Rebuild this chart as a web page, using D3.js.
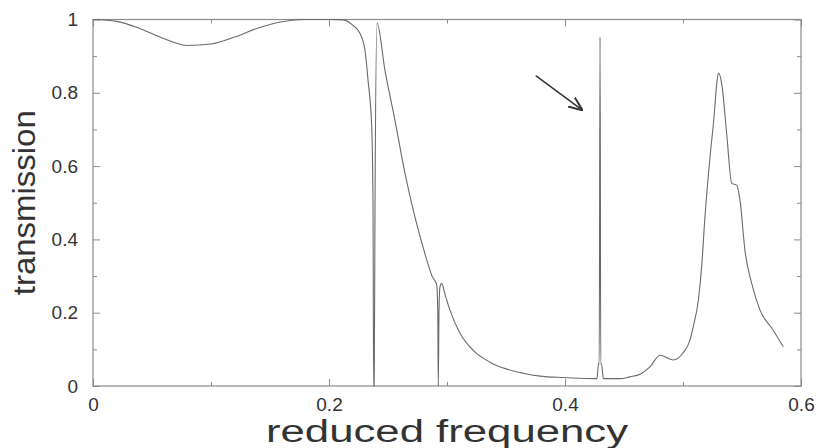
<!DOCTYPE html>
<html>
<head>
<meta charset="utf-8">
<script src="https://cdn.jsdelivr.net/npm/d3@7"></script>
<style>
  body { margin: 0; background: #fff; }
  svg { display: block; font-family: "Liberation Sans", Arial, sans-serif; }
</style>
</head>
<body>
<div id="wrapper"></div>
<script>
// reduced frequency values and their transmission
const frequency = [
  0, 0.02, 0.04, 0.06, 0.08, 0.10, 0.12, 0.14, 0.16, 0.18, 0.20, 0.212,
  0.2203, 0.2263, 0.2305, 0.2331, 0.2362, 0.2373, 0.2378, 0.2383, 0.2390, 0.2407,
  0.2475, 0.2559, 0.2644, 0.2729, 0.2814, 0.2873, 0.2913, 0.2922, 0.2926, 0.2932, 0.2940, 0.2955,
  0.2983, 0.3025, 0.3110, 0.3220, 0.3364, 0.3508, 0.3644, 0.3788, 0.3983, 0.4127, 0.4271,
  0.4284, 0.4290, 0.4297, 0.4303, 0.4310, 0.4325, 0.4466, 0.4550, 0.4636, 0.4720, 0.4805,
  0.4915, 0.5000, 0.5059, 0.5087, 0.5130, 0.5158, 0.5186, 0.5229, 0.5263, 0.5286, 0.5300,
  0.5328, 0.5370, 0.5413, 0.5455, 0.5483, 0.5525, 0.5582, 0.5653, 0.5763, 0.5850
]
const transmission = [
  1.0, 0.995, 0.975, 0.948, 0.929, 0.933, 0.952, 0.977, 0.994, 1.0, 1.0, 0.999,
  0.984, 0.962, 0.916, 0.834, 0.706, 0.5, 0.0, 0.0, 0.5, 0.99,
  0.86, 0.725, 0.58, 0.46, 0.36, 0.30, 0.275, 0.2, 0.0, 0.2, 0.27, 0.28,
  0.25, 0.207, 0.144, 0.098, 0.065, 0.046, 0.035, 0.027, 0.023, 0.021, 0.02,
  0.062, 0.06, 0.952, 0.06, 0.06, 0.02, 0.02, 0.025, 0.032, 0.052, 0.084,
  0.071, 0.09, 0.125, 0.162, 0.234, 0.325, 0.461, 0.625, 0.734, 0.825, 0.854,
  0.825, 0.689, 0.553, 0.548, 0.507, 0.37, 0.28, 0.207, 0.153, 0.107
]

const xMajorTicks = [0, 0.2, 0.4, 0.6]
const xMinorTicks = [0.1, 0.3, 0.5]
const yMajorTicks = [0, 0.2, 0.4, 0.6, 0.8, 1]
const yMinorTicks = [0.1, 0.3, 0.5, 0.7, 0.9]

// arrow pointing at the narrow resonance: [start, tip] in data units
const arrowFrom = [0.3752, 0.847]
const arrowTo = [0.415, 0.752]

const dataset = frequency.map((f, i) => ({ f: f, t: transmission[i] }))

let dimensions = {
  width: 818,
  height: 448,
  margin: { top: 19.5, right: 17, bottom: 62, left: 93 },
}
dimensions.boundedWidth = dimensions.width - dimensions.margin.left - dimensions.margin.right
dimensions.boundedHeight = dimensions.height - dimensions.margin.top - dimensions.margin.bottom

const wrapper = d3.select("#wrapper")
  .append("svg")
    .attr("width", dimensions.width)
    .attr("height", dimensions.height)

const bounds = wrapper.append("g")
    .attr("transform", `translate(${dimensions.margin.left},${dimensions.margin.top})`)

const xScale = d3.scaleLinear()
  .domain([0, 0.6])
  .range([0, dimensions.boundedWidth])

const yScale = d3.scaleLinear()
  .domain([0, 1])
  .range([dimensions.boundedHeight, 0])

const frameColor = "#8a8a8a"
const textColor = "#333"

// ticks pointing inward on all four sides
function styleAxis(g) {
  g.select(".domain").remove()
  g.selectAll(".tick line").attr("stroke", frameColor)
  g.selectAll(".tick text")
    .attr("fill", textColor)
    .style("font-size", "19px")
}

const fmt = d => d3.format("")(d)

bounds.append("g")
    .attr("transform", `translate(0,${dimensions.boundedHeight})`)
    .call(d3.axisBottom(xScale).tickValues(xMajorTicks).tickSizeInner(-7).tickPadding(12).tickFormat(fmt))
    .call(styleAxis)
bounds.append("g")
    .attr("transform", `translate(0,${dimensions.boundedHeight})`)
    .call(d3.axisBottom(xScale).tickValues(xMinorTicks).tickSizeInner(-4).tickFormat(""))
    .call(styleAxis)
bounds.append("g")
    .call(d3.axisTop(xScale).tickValues(xMajorTicks).tickSizeInner(-7).tickFormat(""))
    .call(styleAxis)
bounds.append("g")
    .call(d3.axisTop(xScale).tickValues(xMinorTicks).tickSizeInner(-4).tickFormat(""))
    .call(styleAxis)

bounds.append("g")
    .call(d3.axisLeft(yScale).tickValues(yMajorTicks).tickSizeInner(-7).tickPadding(15).tickFormat(fmt))
    .call(styleAxis)
bounds.append("g")
    .call(d3.axisLeft(yScale).tickValues(yMinorTicks).tickSizeInner(-4).tickFormat(""))
    .call(styleAxis)
bounds.append("g")
    .attr("transform", `translate(${dimensions.boundedWidth},0)`)
    .call(d3.axisRight(yScale).tickValues(yMajorTicks).tickSizeInner(-7).tickFormat(""))
    .call(styleAxis)
bounds.append("g")
    .attr("transform", `translate(${dimensions.boundedWidth},0)`)
    .call(d3.axisRight(yScale).tickValues(yMinorTicks).tickSizeInner(-4).tickFormat(""))
    .call(styleAxis)

bounds.append("rect")
    .attr("width", dimensions.boundedWidth)
    .attr("height", dimensions.boundedHeight)
    .attr("fill", "none")
    .attr("stroke", frameColor)
    .attr("stroke-width", 1.2)

// the curve
const lineGenerator = d3.line()
  .x(d => xScale(d.f))
  .y(d => yScale(d.t))
  .curve(d3.curveMonotoneX)

bounds.append("path")
    .datum(dataset)
    .attr("d", lineGenerator)
    .attr("fill", "none")
    .attr("stroke", "#6a6a6a")
    .attr("stroke-width", 1.1)

// arrow
wrapper.append("defs").append("marker")
    .attr("id", "head")
    .attr("viewBox", "0 0 10 10")
    .attr("refX", 10)
    .attr("refY", 5)
    .attr("markerWidth", 14)
    .attr("markerHeight", 14)
    .attr("markerUnits", "userSpaceOnUse")
    .attr("orient", "auto")
  .append("path")
    .attr("d", "M0,1 L10,5 L0,9")
    .attr("fill", "none")
    .attr("stroke", "#333")
    .attr("stroke-width", 1.4)

bounds.append("line")
    .attr("x1", xScale(arrowFrom[0]))
    .attr("y1", yScale(arrowFrom[1]))
    .attr("x2", xScale(arrowTo[0]))
    .attr("y2", yScale(arrowTo[1]))
    .attr("stroke", "#333")
    .attr("stroke-width", 1.5)
    .attr("marker-end", "url(#head)")

// axis labels
wrapper.append("text")
    .attr("x", 447)
    .attr("y", 442)
    .attr("text-anchor", "middle")
    .attr("fill", textColor)
    .attr("textLength", 362)
    .attr("lengthAdjust", "spacingAndGlyphs")
    .style("font-size", "31px")
    .text("reduced frequency")

wrapper.append("text")
    .attr("transform", `translate(35,${dimensions.margin.top + dimensions.boundedHeight / 2}) rotate(-90)`)
    .attr("text-anchor", "middle")
    .attr("fill", textColor)
    .attr("textLength", 185)
    .attr("lengthAdjust", "spacingAndGlyphs")
    .style("font-size", "31px")
    .text("transmission")
</script>
</body>
</html>
